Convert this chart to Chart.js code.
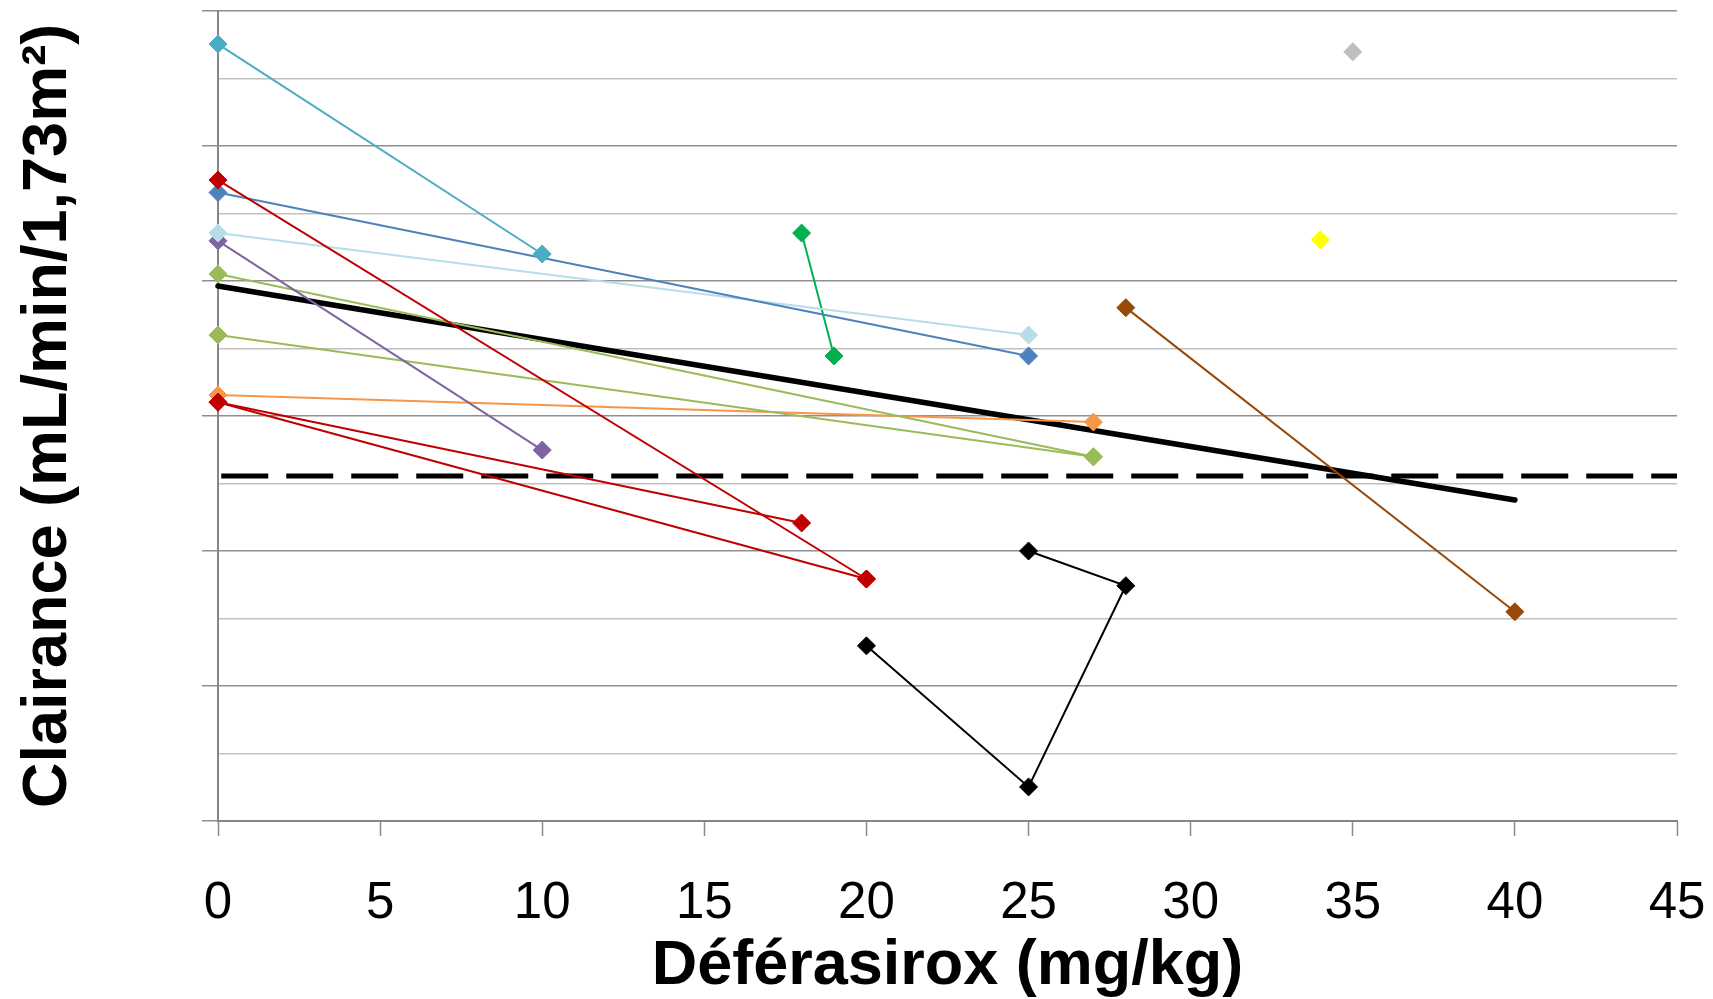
<!DOCTYPE html>
<html>
<head>
<meta charset="utf-8">
<script src="https://cdn.jsdelivr.net/npm/chart.js@4/dist/chart.umd.min.js"></script>
<style>
	html, body { margin: 0; padding: 0; background: #fff; }
	canvas { display: block; }
</style>
</head>
<body>
<canvas id="chart" width="1713" height="999"></canvas>
<script>
// x = Déférasirox (mg/kg), y = clearance; one small list of [x, y] per patient
const xTicks = [0, 5, 10, 15, 20, 25, 30, 35, 40, 45];
const xTitle = 'Déférasirox (mg/kg)';
const yTitle = 'Clairance (mL/min/1,73m²)';

const cyanPts = [[0, 230.2], [10, 168.0]];
const redPtsA = [[0, 189.9], [20, 71.7]];
const redPtsB = [[0, 124.1], [18, 88.3]];
const redPtsC = [[0, 124.1], [20, 71.7]];
const bluePts = [[0, 186.2], [25, 137.8]];
const lightBluePts = [[0, 174.2], [25, 144.0]];
const purplePts = [[0, 171.9], [10, 109.9]];
const olivePtsA = [[0, 162.1], [27, 107.9]];
const olivePtsB = [[0, 144.0], [27, 107.9]];
const orangePts = [[0, 126.2], [27, 118.2]];
const greenPts = [[18, 174.2], [19, 137.8]];
const blackPts = [[20, 51.9], [25, 10.1], [28, 69.7], [25, 80.0]];
const brownPts = [[28, 152.1], [40, 62.0]];
const greyPts = [[35, 227.9]];
const yellowPts = [[34, 172.2]];
const trendPts = [[0, 158.5], [40, 95.1]];
const limitPts = [[0.1, 102.2], [45, 102.2]];

const FONT = "'Liberation Sans', Arial, sans-serif";

function toXY(points) {
	return points.map(([x, y]) => ({ x, y }));
}

function patient(points, color) {
	return {
		data: toXY(points),
		borderColor: color,
		backgroundColor: color,
		borderWidth: 2,
		pointStyle: 'rectRot',
		pointRadius: 9,
		pointBorderWidth: 1,
		pointBorderColor: color,
		pointBackgroundColor: color,
		pointHoverRadius: 9,
		showLine: points.length > 1,
		clip: false,
	};
}

// first dataset is drawn on top, so the trend and the limit go last
const datasets = [
	patient(cyanPts, '#4BACC6'),
	patient(redPtsA, '#C00000'),
	patient(redPtsB, '#C00000'),
	patient(redPtsC, '#C00000'),
	patient(bluePts, '#4F81BD'),
	patient(lightBluePts, '#B7DEE8'),
	patient(purplePts, '#8064A2'),
	patient(olivePtsA, '#9BBB59'),
	patient(olivePtsB, '#9BBB59'),
	patient(orangePts, '#F79646'),
	patient(greenPts, '#00B050'),
	patient(blackPts, '#000000'),
	patient(brownPts, '#984807'),
	patient(greyPts, '#BFBFBF'),
	patient(yellowPts, '#FFFF00'),
	{
		data: toXY(trendPts),
		showLine: true,
		borderColor: '#000',
		borderWidth: 5.5,
		borderCapStyle: 'round',
		pointRadius: 0,
		clip: false,
	},
	{
		data: toXY(limitPts),
		showLine: true,
		borderColor: '#000',
		borderWidth: 5,
		borderDash: [47, 18],
		pointRadius: 0,
		clip: false,
	},
];

const isMajor = (ctx) => ctx.tick && ctx.tick.value % 40 === 0;

new Chart(document.getElementById('chart').getContext('2d'), {
	type: 'scatter',
	data: { datasets },
	options: {
		responsive: false,
		animation: false,
		events: [],
		layout: { padding: { top: 11, right: 36, left: 0, bottom: 0 } },
		plugins: {
			legend: { display: false },
			tooltip: { enabled: false },
		},
		scales: {
			x: {
				type: 'linear',
				min: 0,
				max: 45,
				afterFit: (scale) => {
					scale.height = 178;
					// the big label padding would otherwise eat into the right margin
					scale.paddingLeft = 0;
					scale.paddingRight = 0;
				},
				afterBuildTicks: (scale) => { scale.ticks = xTicks.map(value => ({ value })); },
				border: { color: '#868686', width: 2 },
				grid: {
					drawOnChartArea: false,
					drawTicks: true,
					tickLength: 15,
					tickColor: '#8a8a8a',
					tickWidth: 1.5,
				},
				ticks: {
					color: '#000',
					padding: 37,
					maxRotation: 0,
					font: { family: FONT, size: 51 },
				},
				title: {
					display: true,
					text: xTitle,
					color: '#000',
					padding: { top: 0, bottom: 0.5 },
					font: { family: FONT, size: 63, weight: 'bold', lineHeight: 1.0 },
				},
			},
			y: {
				type: 'linear',
				min: 0,
				max: 240,
				afterFit: (scale) => { scale.width = 218; },
				border: { color: '#868686', width: 2 },
				grid: {
					drawTicks: true,
					tickLength: 16,
					color: (ctx) => isMajor(ctx) ? '#8f8f8f' : '#c0c0c0',
					lineWidth: 1.5,
					tickColor: (ctx) => isMajor(ctx) ? '#8f8f8f' : 'rgba(0,0,0,0)',
					tickWidth: 1.5,
				},
				ticks: { stepSize: 20, display: false },
				title: {
					display: true,
					text: yTitle,
					color: '#000',
					padding: { top: 11, bottom: 0 },
					font: { family: FONT, size: 63, weight: 'bold' },
				},
			},
		},
	},
});
</script>
</body>
</html>
